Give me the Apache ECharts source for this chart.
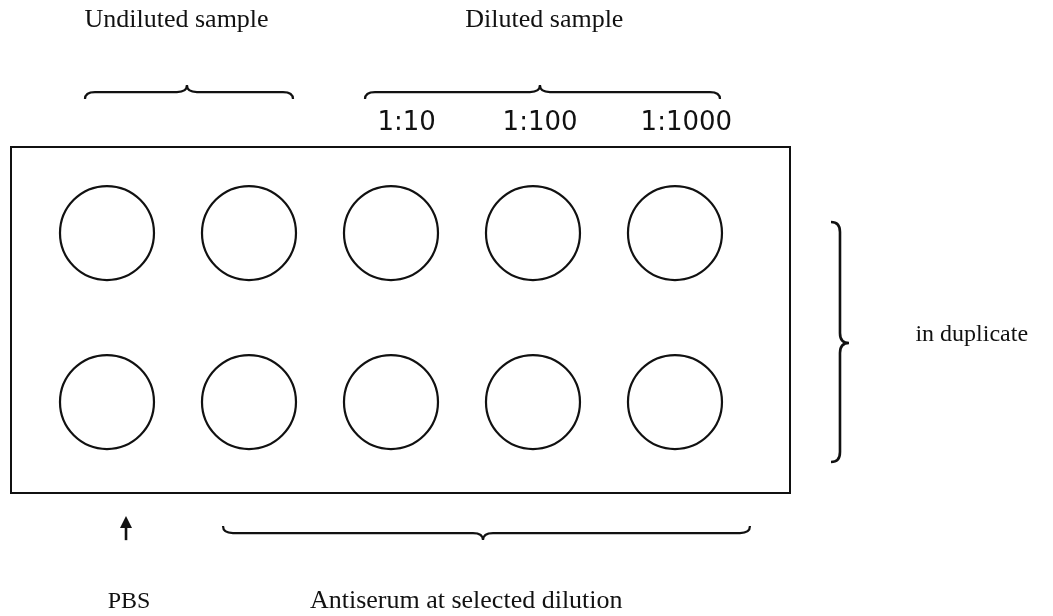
<!DOCTYPE html>
<html>
<head>
    <meta charset="utf-8">
    <title>Plate layout</title>
    <script src="https://cdn.jsdelivr.net/npm/echarts@6/dist/echarts.min.js"></script>
    <style>
        html, body { margin: 0; padding: 0; background: #fff; }
        #main { width: 1053px; height: 616px; }
    </style>
</head>
<body>
<div id="main"></div>
<script type="text/javascript">
    // wells: column 1..5, row 1..2 (axis units = one well pitch)
    var wellCols = [1, 2, 3, 4, 5];
    var wellRows = [1, 2];

    // dilution labels above the diluted wells
    var dilutionLabels = ['1:10', '1:100', '1:1000'];
    var dilutionCols = [3.11, 4.05, 5.08];

    // horizontal braces: [fromCol, toCol, row, tipCol, tipDir]
    var hBraces = [
        [0.845, 2.31, 0.166, 1.563, -1],
        [2.817, 5.317, 0.166, 4.049, -1],
        [1.817, 5.528, 2.775, 3.648, 1]
    ];
    // vertical brace: [fromRow, toRow, col, tipRow]
    var vBraces = [
        [0.935, 2.355, 6.162, 1.651]
    ];
    // PBS arrow: [col, tailRow, headRow]
    var arrows = [
        [1.134, 2.817, 2.68]
    ];

    var captionText = ['Undiluted sample', 'Diluted sample', 'in duplicate', 'PBS', 'Antiserum at selected dilution'];
    var captionCols = [1.49, 4.08, 7.09, 1.155, 3.53];
    var captionRows = [-0.26, -0.26, 1.60, 3.18, 3.18];

    var ink = '#111';

    var wells = [];
    wellRows.forEach(function (r) {
        wellCols.forEach(function (c) {
            wells.push([c, r]);
        });
    });

    var chart = echarts.init(document.getElementById('main'));

    var option = {
        animation: false,
        backgroundColor: '#fff',
        grid: {
            left: 11,
            top: 147,
            width: 779,
            height: 346,
            show: true,
            borderColor: ink,
            borderWidth: 2,
            backgroundColor: 'transparent'
        },
        xAxis: {
            type: 'value',
            min: 0.324,
            max: 5.81,
            show: false,
            splitLine: {show: false}
        },
        yAxis: {
            type: 'value',
            inverse: true,
            min: 0.491,
            max: 2.538,
            show: false,
            splitLine: {show: false}
        },
        series: [
            {
                type: 'scatter',
                data: wells,
                symbol: 'circle',
                symbolSize: 94,
                itemStyle: {
                    color: '#fff',
                    borderColor: ink,
                    borderWidth: 2.2,
                    opacity: 1
                },
                silent: true
            },
            {
                // dilution labels
                type: 'custom',
                data: dilutionCols.map(function (c) { return [c, 0.349]; }),
                renderItem: function (params, api) {
                    var p = api.coord([api.value(0), api.value(1)]);
                    return {
                        type: 'text',
                        x: p[0], y: p[1],
                        style: {
                            text: dilutionLabels[params.dataIndex],
                            font: '26px "DejaVu Sans"',
                            fill: ink,
                            align: 'center',
                            verticalAlign: 'middle'
                        }
                    };
                }
            },
            {
                // captions
                type: 'custom',
                data: captionCols.map(function (c, i) { return [c, captionRows[i]]; }),
                renderItem: function (params, api) {
                    var p = api.coord([api.value(0), api.value(1)]);
                    var size = (params.dataIndex === 2 || params.dataIndex === 3) ? 24 : 26;
                    return {
                        type: 'text',
                        x: p[0], y: p[1],
                        style: {
                            text: captionText[params.dataIndex],
                            font: size + 'px "Liberation Serif"',
                            fill: ink,
                            align: 'center',
                            verticalAlign: 'middle'
                        }
                    };
                }
            },
            {
                // horizontal braces
                type: 'custom',
                data: hBraces,
                renderItem: function (params, api) {
                    var a = api.coord([api.value(0), api.value(2)]);
                    var b = api.coord([api.value(1), api.value(2)]);
                    var m = api.coord([api.value(3), api.value(2)]);
                    var d = api.value(4);
                    var y = a[1], h = 7, r = 10;
                    var path = 'M' + a[0] + ',' + (y - d * h) +
                        ' Q' + a[0] + ',' + y + ' ' + (a[0] + r) + ',' + y +
                        ' L' + (m[0] - r) + ',' + y +
                        ' Q' + m[0] + ',' + y + ' ' + m[0] + ',' + (y + d * h) +
                        ' Q' + m[0] + ',' + y + ' ' + (m[0] + r) + ',' + y +
                        ' L' + (b[0] - r) + ',' + y +
                        ' Q' + b[0] + ',' + y + ' ' + b[0] + ',' + (y - d * h);
                    return {
                        type: 'path',
                        shape: {pathData: path},
                        style: {fill: 'none', stroke: ink, lineWidth: 2.2}
                    };
                }
            },
            {
                // vertical brace
                type: 'custom',
                data: vBraces,
                renderItem: function (params, api) {
                    var a = api.coord([api.value(2), api.value(0)]);
                    var b = api.coord([api.value(2), api.value(1)]);
                    var m = api.coord([api.value(2), api.value(3)]);
                    var x = a[0], h = 9, r = 10;
                    var path = 'M' + (x - h) + ',' + a[1] +
                        ' Q' + x + ',' + a[1] + ' ' + x + ',' + (a[1] + r) +
                        ' L' + x + ',' + (m[1] - r) +
                        ' Q' + x + ',' + m[1] + ' ' + (x + h) + ',' + m[1] +
                        ' Q' + x + ',' + m[1] + ' ' + x + ',' + (m[1] + r) +
                        ' L' + x + ',' + (b[1] - r) +
                        ' Q' + x + ',' + b[1] + ' ' + (x - h) + ',' + b[1];
                    return {
                        type: 'path',
                        shape: {pathData: path},
                        style: {fill: 'none', stroke: ink, lineWidth: 2.6}
                    };
                }
            },
            {
                // PBS arrow
                type: 'custom',
                data: arrows,
                renderItem: function (params, api) {
                    var t = api.coord([api.value(0), api.value(1)]);
                    var hd = api.coord([api.value(0), api.value(2)]);
                    return {
                        type: 'group',
                        children: [
                            {
                                type: 'line',
                                shape: {x1: t[0], y1: t[1], x2: hd[0], y2: hd[1] + 6},
                                style: {stroke: ink, lineWidth: 2.6}
                            },
                            {
                                type: 'polygon',
                                shape: {points: [[hd[0], hd[1] - 1], [hd[0] - 6, hd[1] + 11], [hd[0] + 6, hd[1] + 11]]},
                                style: {fill: ink}
                            }
                        ]
                    };
                }
            }
        ]
    };

    chart.setOption(option);
</script>
</body>
</html>
